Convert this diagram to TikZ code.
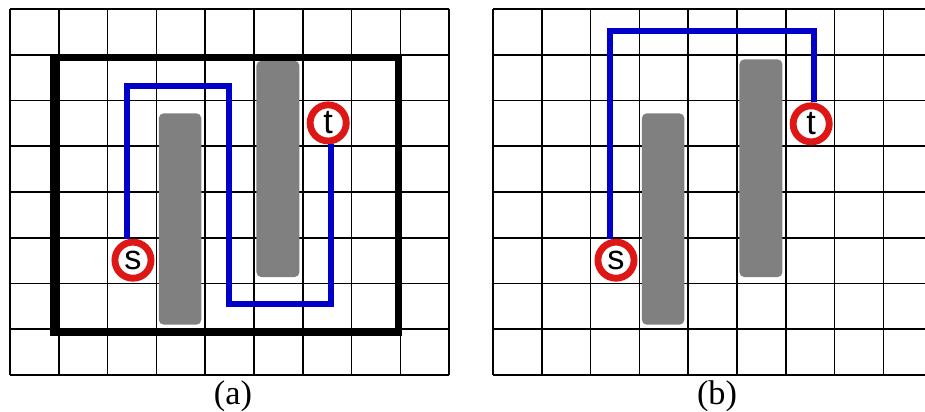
\documentclass[tikz,border=0pt]{standalone}
\usepackage{fontspec}
\setmainfont{Liberation Serif}
\newfontfamily\pinfont{Liberation Sans}
\definecolor{routeblue}{RGB}{0,0,200}
\definecolor{pinred}{RGB}{222,22,22}
\definecolor{blockgray}{RGB}{128,128,128}

\begin{document}
\begin{tikzpicture}[x=1cm, y=0.9375cm,
    gridline/.style={line width=0.9pt, step={(1,1)}},
    block/.style={fill=blockgray, rounded corners=0.1cm},
    route/.style={line width=3.3pt, routeblue},
    pin/.style={circle, draw=pinred, line width=4pt, fill=white,
      minimum size=0.74cm, inner sep=0pt,
      font=\pinfont\fontsize{20}{20}\selectfont},
    caption/.style={font=\fontsize{20}{20}\selectfont}]
    \useasboundingbox (-0.205,-0.787) rectangle (18.75,8.197);
    % (a) 网格
    \draw[gridline] (0,0) grid (9.001,8.001);
    % 障碍
    \fill[block] (3.05,1.1) rectangle (3.92,5.72);
    \fill[block] (5.05,2.14) rectangle (5.93,6.87);
    % 边界框
    \draw[line width=4.6pt] (0.9,0.94) rectangle (7.96,6.94);
    % 端点
    \node[pin] (s1) at (2.52,2.51) {s};
    \node[pin] (t1) at (6.52,5.51) {t};
    % 绕行路径
    \draw[route] ([xshift=-0.12cm]s1.north) |- (4.49,6.32) |- (6.58,1.55)
      |- ([xshift=0.06cm]t1.south);
    \node[caption] (capa) at (4.57,-0.46) {(a)};

    \begin{scope}[shift={(9.898,0)}]
      % (b) 网格
      \draw[gridline] (0,0) grid (8.95,8.001);
      % 障碍
      \fill[block] (3.05,1.1) rectangle (3.92,5.72);
      \fill[block] (5.05,2.14) rectangle (5.93,6.9);
      % 端点
      \node[pin] (s2) at (2.52,2.51) {s};
      \node[pin] (t2) at (6.52,5.49) {t};
      % 直接路径
      \draw[route] ([xshift=-0.12cm]s2.north) |- (6.58,7.52)
        -- ([xshift=0.06cm]t2.north);
      \node[caption] (capb) at (4.59,-0.46) {(b)};
    \end{scope}
\end{tikzpicture}
\end{document}
